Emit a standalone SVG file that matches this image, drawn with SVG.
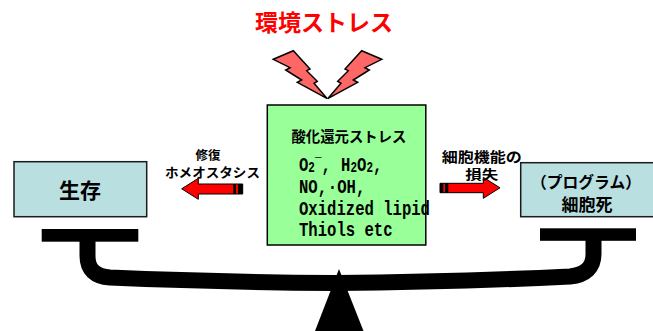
<svg xmlns="http://www.w3.org/2000/svg" width="653" height="331" viewBox="0 0 653 331">
<style>
.jp{font-family:"Noto Sans CJK JP","Noto Sans",sans-serif;font-weight:bold;fill:#000}
.mono{font-family:"Liberation Mono","DejaVu Sans Mono",monospace;font-weight:bold;font-size:20px;fill:#000}
.sub{font-size:14px}
.box{fill:#b9dfe1;stroke:#1a1a1a;stroke-width:1.5}
.bolt{fill:#ff6666;stroke:#000;stroke-width:1.5;stroke-linejoin:miter}
.arrow{fill:#ff0000;stroke:#000;stroke-width:1}
</style>
<defs>
<polygon id="boltShape" class="bolt" points="273.3,59.3 293.3,50.7 310,69 306.7,70.7 317.3,81.3 314,83.3 327.3,98.7 297.3,82.3 301.7,80 285.7,70 290,67.7"/>
</defs>

<g id="title">
<text class="jp" x="324" y="31" font-size="23" text-anchor="middle" style="fill:#ff0000">環境ストレス</text>
</g>

<g id="bolts">
<use href="#boltShape"/>
<use href="#boltShape" transform="translate(655,0) scale(-1,1)"/>
</g>

<g id="balance">
<rect x="41.7" y="229" width="96.6" height="12.7" fill="#000"/>
<rect x="540" y="228.3" width="96" height="12.5" fill="#000"/>
<path d="M87.5,240 L87.5,256 Q87.5,276 110,277.5 Q215,282 335,283 Q455,282 570,276.5 Q593.5,274 593.5,254 L593.5,240" fill="none" stroke="#000" stroke-width="16"/>
<polygon points="339,269 363.5,331 315,331" fill="#000"/>
</g>

<g id="node-survival">
<rect class="box" x="14" y="161.7" width="132.7" height="55"/>
<text class="jp" x="80" y="197.5" font-size="21" text-anchor="middle">生存</text>
</g>

<g id="node-death">
<rect class="box" x="520.7" y="162.7" width="134" height="54"/>
<text class="jp" x="586" y="188" font-size="16" text-anchor="middle" textLength="110" lengthAdjust="spacingAndGlyphs">（プログラム）</text>
<text class="jp" x="587" y="210.5" font-size="17" text-anchor="middle">細胞死</text>
</g>

<g id="node-redox">
<rect x="267.3" y="105" width="158.5" height="140" fill="#99ff99" stroke="#000" stroke-width="1.5"/>
<text class="jp" x="349" y="142" font-size="14.5" text-anchor="middle" textLength="115" lengthAdjust="spacingAndGlyphs">酸化還元ストレス</text>
<g transform="translate(299,0) scale(0.78,1)">
<text class="mono" y="171"><tspan x="0">O</tspan><tspan class="sub" x="12" dy="1">2</tspan><tspan class="sub" x="20.4" dy="-4">¯</tspan><tspan x="28.8" dy="3">,</tspan><tspan x="54">H</tspan><tspan class="sub" x="66" dy="1">2</tspan><tspan x="74.4" dy="-1">O</tspan><tspan class="sub" x="86.4" dy="1">2</tspan><tspan x="94.8" dy="-1">,</tspan></text>
<text class="mono" y="193"><tspan x="0">NO,</tspan><tspan x="37">·</tspan><tspan x="49">OH,</tspan></text>
<text class="mono" x="0" y="215">Oxidized lipid</text>
<text class="mono" x="0" y="236.5">Thiols etc</text>
</g>
</g>

<g id="connectors">
<g id="arrow-left">
<polygon class="arrow" points="181.7,188.8 198.3,178.3 198.3,184 242.7,184 242.7,194 198.3,194 198.3,199.3"/>
<rect x="233.3" y="184" width="2.7" height="10" fill="#000"/>
<rect x="238" y="184" width="4.7" height="10" fill="#000"/>
<text class="jp" x="208" y="159.5" font-size="12.5" text-anchor="middle">修復</text>
<text class="jp" x="212.5" y="177" font-size="13" text-anchor="middle" textLength="95" lengthAdjust="spacingAndGlyphs">ホメオスタシス</text>
</g>
<g id="arrow-right">
<polygon class="arrow" points="500,187.8 483.3,177.3 483.3,183.3 440,183.3 440,192.7 483.3,192.7 483.3,198.3"/>
<rect x="440" y="183.3" width="3.3" height="9.4" fill="#000"/>
<rect x="445" y="183.3" width="3.3" height="9.4" fill="#000"/>
<text class="jp" x="481.7" y="162" font-size="14" text-anchor="middle" textLength="80" lengthAdjust="spacingAndGlyphs">細胞機能の</text>
<text class="jp" x="481.7" y="179" font-size="13" text-anchor="middle" textLength="33" lengthAdjust="spacingAndGlyphs">損失</text>
</g>
</g>
</svg>
